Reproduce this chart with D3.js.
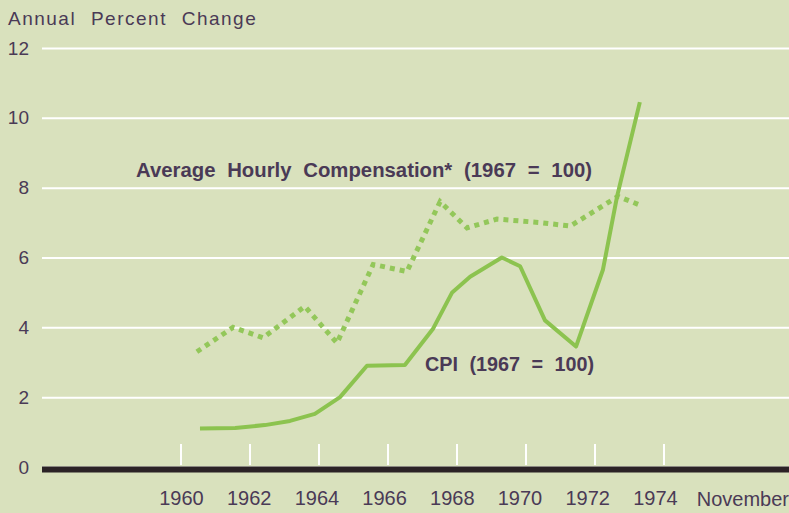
<!DOCTYPE html>
<html>
<head>
<meta charset="utf-8">
<script src="https://cdn.jsdelivr.net/npm/d3@7"></script>
<style>
  html, body { margin: 0; padding: 0; background: #d9e1bd; }
  svg { display: block; }
</style>
</head>
<body>
<div id="chart"></div>
<script>
var w = 789;
var h = 513;

var colorBg = '#d9e1bd';
var colorLine = '#8cc34f';
var colorText = '#4a3a56';
var colorGrid = '#ffffff';
var colorAxis = '#2b2226';
var fontFamily = 'Liberation Sans, Arial, sans-serif';

// values (x as fractional year)
var cpiYears = [1960.55, 1961.57, 1962.43, 1963.16, 1963.88, 1964.61, 1965.39, 1966.49, 1967.30, 1967.86, 1968.38, 1969.30, 1969.83, 1970.55, 1971.45, 1972.23, 1972.64, 1973.30];
var cpiValues = [1.1, 1.12, 1.2, 1.32, 1.52, 2.0, 2.9, 2.92, 3.95, 5.0, 5.45, 6.0, 5.75, 4.2, 3.45, 5.65, 7.75, 10.45];

var compYears = [1960.46, 1961.51, 1962.38, 1963.59, 1964.52, 1965.57, 1966.55, 1967.51, 1968.29, 1969.16, 1970.41, 1971.28, 1972.67, 1973.30];
var compValues = [3.3, 4.0, 3.7, 4.6, 3.55, 5.8, 5.6, 7.6, 6.85, 7.1, 7.0, 6.9, 7.75, 7.5];

var xTicks = [1960, 1962, 1964, 1966, 1968, 1970, 1972, 1974];
var yTicks = [0, 2, 4, 6, 8, 10, 12];

let svg = d3.select('#chart').append('svg')
  .attr('width', w)
  .attr('height', h);

svg.append('rect')
  .attr('width', w)
  .attr('height', h)
  .attr('fill', colorBg);

let x = d3.scaleLinear().domain([1960, 1974]).range([181, 664]);
let y = d3.scaleLinear().domain([0, 12]).range([467, 48]);

// title
svg.append('text')
  .attr('x', 8)
  .attr('y', 25)
  .attr('fill', colorText)
  .attr('font-family', fontFamily)
  .attr('font-size', 19)
  .attr('letter-spacing', 1.5)
  .attr('word-spacing', 8)
  .text('Annual Percent Change');

// gridlines + y labels
let yAxis = svg.append('g')
  .attr('transform', 'translate(42,0)')
  .call(d3.axisLeft(y).tickValues(yTicks).tickSize(-(w - 42)).tickPadding(13));
yAxis.select('.domain').remove();
yAxis.selectAll('.tick line')
  .attr('stroke', colorGrid)
  .attr('stroke-width', 2);
yAxis.selectAll('.tick text')
  .attr('fill', colorText)
  .attr('font-family', fontFamily)
  .attr('font-size', 19);

// zero line
svg.append('line')
  .attr('x1', 42).attr('x2', w)
  .attr('y1', y(0) + 2.5).attr('y2', y(0) + 2.5)
  .attr('stroke', colorAxis)
  .attr('stroke-width', 6);

// white tick marks above zero line
svg.selectAll('.xtick')
  .data(xTicks)
  .join('line')
  .attr('class', 'xtick')
  .attr('x1', d => x(d)).attr('x2', d => x(d))
  .attr('y1', y(0) - 23).attr('y2', y(0) - 2)
  .attr('stroke', colorGrid)
  .attr('stroke-width', 2);

// x labels
let xAxis = svg.append('g')
  .attr('transform', 'translate(0,' + (y(0) + 5) + ')')
  .call(d3.axisBottom(x).tickValues(xTicks).tickSize(0).tickPadding(19).tickFormat(d3.format('d')));
xAxis.select('.domain').remove();
xAxis.selectAll('.tick text')
  .attr('fill', colorText)
  .attr('font-family', fontFamily)
  .attr('font-size', 20)
  .attr('dx', (d, i) => -i * 1.3);

svg.append('text')
  .attr('x', w)
  .attr('y', y(0) + 39)
  .attr('text-anchor', 'end')
  .attr('fill', colorText)
  .attr('font-family', fontFamily)
  .attr('font-size', 20)
  .text('November');

// lines
let line = d3.line()
  .x(d => x(d[0]))
  .y(d => y(d[1]));

svg.append('path')
  .datum(d3.zip(compYears, compValues))
  .attr('d', line)
  .attr('fill', 'none')
  .attr('stroke', '#93c75a')
  .attr('stroke-width', 5)
  .attr('stroke-dasharray', '5,5');

svg.append('path')
  .datum(d3.zip(cpiYears, cpiValues))
  .attr('d', line)
  .attr('fill', 'none')
  .attr('stroke', colorLine)
  .attr('stroke-width', 4)
  .attr('stroke-linejoin', 'round');

// series labels
svg.append('text')
  .attr('x', 136)
  .attr('y', 177)
  .attr('fill', colorText)
  .attr('font-family', fontFamily)
  .attr('font-weight', 'bold')
  .attr('font-size', 20)
  .attr('textLength', 456)
  .attr('lengthAdjust', 'spacingAndGlyphs')
  .attr('word-spacing', 6)
  .text('Average Hourly Compensation* (1967 = 100)');

svg.append('text')
  .attr('x', 425)
  .attr('y', 371)
  .attr('fill', colorText)
  .attr('font-family', fontFamily)
  .attr('font-weight', 'bold')
  .attr('font-size', 20)
  .attr('textLength', 169)
  .attr('lengthAdjust', 'spacingAndGlyphs')
  .attr('word-spacing', 6)
  .text('CPI (1967 = 100)');
</script>
</body>
</html>
